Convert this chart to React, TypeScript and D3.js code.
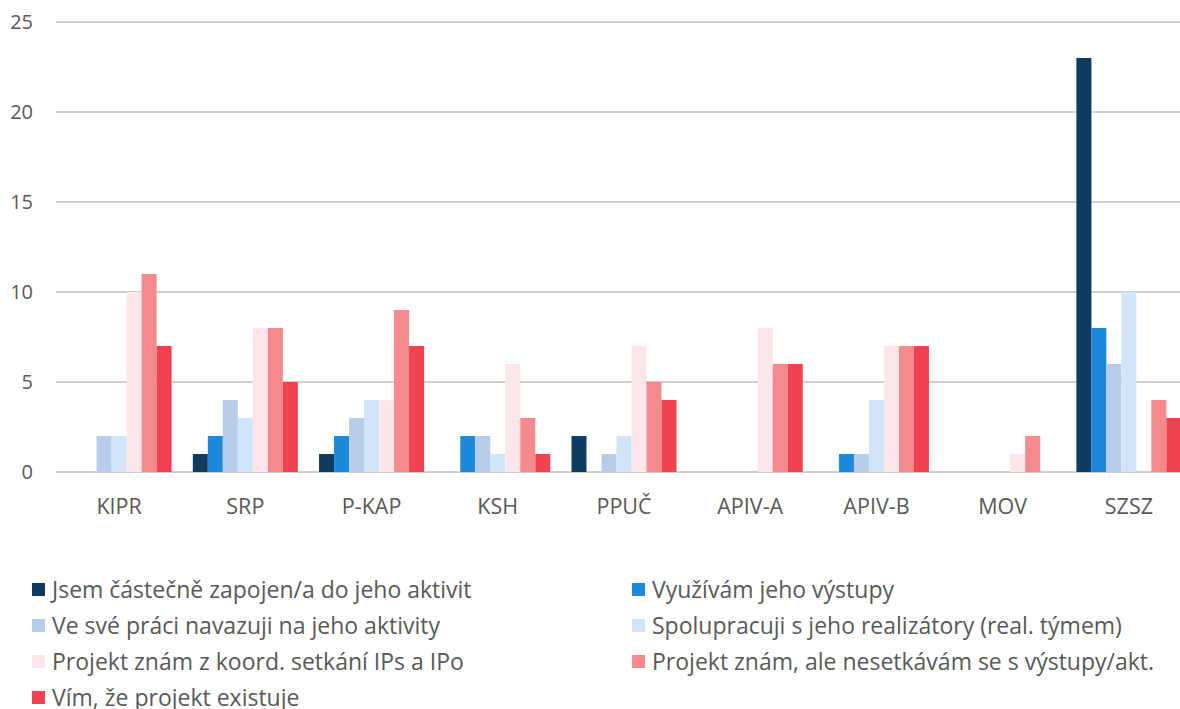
import React from "react"
import * as d3 from "d3"

const categories = ["KIPR", "SRP", "P-KAP", "KSH", "PPUČ", "APIV-A", "APIV-B", "MOV", "SZSZ"]

const seriesNames = [
  "Jsem částečně zapojen/a do jeho aktivit",
  "Využívám jeho výstupy",
  "Ve své práci navazuji na jeho aktivity",
  "Spolupracuji s jeho realizátory (real. týmem)",
  "Projekt znám z koord. setkání IPs a IPo",
  "Projekt znám, ale nesetkávám se s výstupy/akt.",
  "Vím, že projekt existuje",
]

const seriesColors = ["#0f3b5f", "#1e88da", "#b7cdeb", "#d0e5f8", "#fde6e9", "#f4898e", "#f04250"]

// values per series, in category order
const zapojen = [0, 1, 1, 0, 2, 0, 0, 0, 23]
const vyuzivam = [0, 2, 2, 2, 0, 0, 1, 0, 8]
const navazuji = [2, 4, 3, 2, 1, 0, 1, 0, 6]
const spolupracuji = [2, 3, 4, 1, 2, 0, 4, 0, 10]
const koordSetkani = [10, 8, 4, 6, 7, 8, 7, 1, 0]
const nesetkavam = [11, 8, 9, 3, 5, 6, 7, 2, 4]
const existuje = [7, 5, 7, 1, 4, 6, 7, 0, 3]

const seriesValues = [zapojen, vyuzivam, navazuji, spolupracuji, koordSetkani, nesetkavam, existuje]

const yTicks = [0, 5, 10, 15, 20, 25]

const FONT = "'Open Sans', 'Liberation Sans', sans-serif"

export default function App() {
  const width = 1180
  const height = 709
  const left = 56
  const right = 1192
  const top = 22
  const bottom = 472

  const x = d3.scaleBand<string>().domain(categories).range([left, right]).paddingInner(0.168).paddingOuter(0.084)
  const xs = d3
    .scaleBand<number>()
    .domain(d3.range(seriesNames.length))
    .range([0, x.bandwidth()])
  const y = d3.scaleLinear().domain([0, 25]).range([bottom, top])

  return (
    <svg
      width={width}
      height={height}
      style={{ position: "fixed", left: 0, top: 0, background: "#ffffff" }}
      fontFamily={FONT}
    >
      <rect width={width} height={height} fill="#ffffff" />
      {yTicks.map((t) => (
        <g key={t}>
          <line x1={left} x2={width} y1={y(t)} y2={y(t)} stroke="#bfbfbf" strokeWidth={1.5} />
          <text x={33} y={y(t)} dy="0.35em" textAnchor="end" fontSize={20} fill="#595959">
            {t}
          </text>
        </g>
      ))}
      {categories.map((c, ci) => (
        <g key={c} transform={`translate(${x(c)},0)`}>
          {seriesValues.map((vals, si) =>
            vals[ci] > 0 ? (
              <rect
                key={si}
                x={xs(si)}
                y={y(vals[ci])}
                width={xs.bandwidth()}
                height={y(0) - y(vals[ci])}
                fill={seriesColors[si]}
              />
            ) : null
          )}
          <text x={x.bandwidth() / 2} y={506.5} dy="0.35em" textAnchor="middle" fontSize={21.5} fill="#595959">
            {c}
          </text>
        </g>
      ))}
      {seriesNames.map((name, i) => {
        const col = i % 2
        const row = Math.floor(i / 2)
        const lx = col === 0 ? 32 : 632
        const ly = 589.5 + row * 36
        return (
          <g key={name} transform={`translate(${lx},${ly})`}>
            <rect x={0} y={-6.5} width={13} height={13} fill={seriesColors[i]} />
            <text x={20} y={0} dy="0.35em" fontSize={23} fill="#595959">
              {name}
            </text>
          </g>
        )
      })}
    </svg>
  )
}
